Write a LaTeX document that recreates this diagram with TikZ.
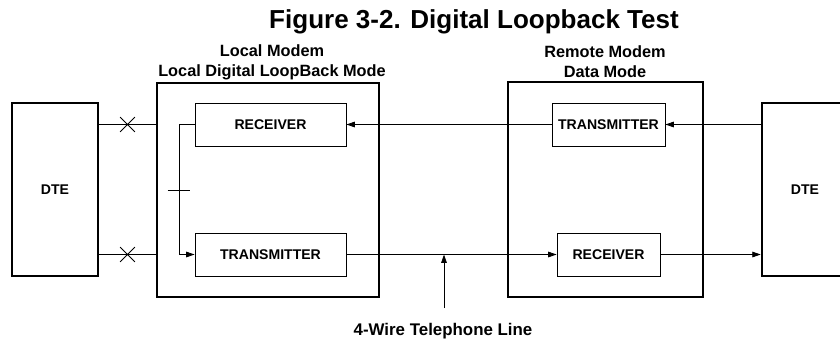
\documentclass[tikz,border=0pt]{standalone}
\usepackage{fontspec}
\setmainfont{Liberation Sans}
\usetikzlibrary{arrows.meta,shapes.misc}
\tikzset{
  blk/.style={draw,line width=0.6pt,inner sep=0pt,minimum height=1.075cm,font=\bfseries},
  modem/.style={draw,line width=1.8pt,inner sep=0pt},
  dte/.style={draw,line width=1.8pt,inner sep=0pt,minimum width=2.15cm,minimum height=4.325cm,font=\bfseries},
  wire/.style={line width=0.6pt},
  arr/.style={wire,-{Triangle[length=6pt,width=4pt]}},
  xmark/.style={draw,cross out,line width=0.6pt,minimum size=0.35cm,inner sep=0pt},
  lbl/.style={font=\bfseries\fontsize{11.6}{14.2}\selectfont,inner sep=0pt,align=center}
}
\begin{document}
\begin{tikzpicture}[x=0.025cm,y=-0.025cm]
\useasboundingbox (0,0) rectangle (840,343);
\clip (0,0) rectangle (840,343);
\node[lbl,anchor=base,font=\bfseries\fontsize{18.5}{22}\selectfont] (title) at (474,28) {Figure 3-2. Digital Loopback Test};
\node[modem,minimum width=5.55cm,minimum height=5.35cm] (lm) at (268,190) {};
\node[modem,minimum width=4.875cm,minimum height=5.375cm] (rm) at (605.5,189.5) {};
\node[lbl,anchor=south] (lmt) at (272,80) {Local Modem\\Local Digital LoopBack Mode};
\node[lbl,anchor=south] (rmt) at (605,78) {Remote Modem\\Data Mode};
\foreach \n/\x in {dteL/55,dteR/805}
  \node[dte] (\n) at (\x,189.5) {DTE};
\node[blk,minimum width=3.775cm] (lrx) at (270.5,124.5) {RECEIVER};
\node[blk,minimum width=3.775cm] (ltx) at (270.5,254.5) {TRANSMITTER};
\node[blk,minimum width=2.825cm] (rtx) at (608.5,124.5) {TRANSMITTER};
\node[blk,minimum width=2.575cm] (rrx) at (608.5,254.5) {RECEIVER};
\foreach \b in {lrx,ltx}
  \draw[wire] (dteL.east |- \b) -- node[xmark] {} (lm.west |- \b);
\draw[arr] (lrx.west) -- ++(-15,0) coordinate (lpk) |- (ltx.west);
\draw[wire] (lpk |- lm.center) ++(-12,0) -- ++(22,0);
\draw[arr] (dteR.west |- rtx) -- (rtx.east);
\draw[arr] (rtx.west) -- (lrx.east);
\draw[arr] (ltx.east) -- (rrx.west);
\draw[arr] (rrx.east) -- (dteR.west |- rrx);
\node[lbl,anchor=base,font=\bfseries\fontsize{12}{14}\selectfont] (tel) at (443,335) {4-Wire Telephone Line};
\coordinate (tap) at (444,308);
\draw[arr] (tap) -- (tap |- ltx.east);
\end{tikzpicture}
\end{document}
